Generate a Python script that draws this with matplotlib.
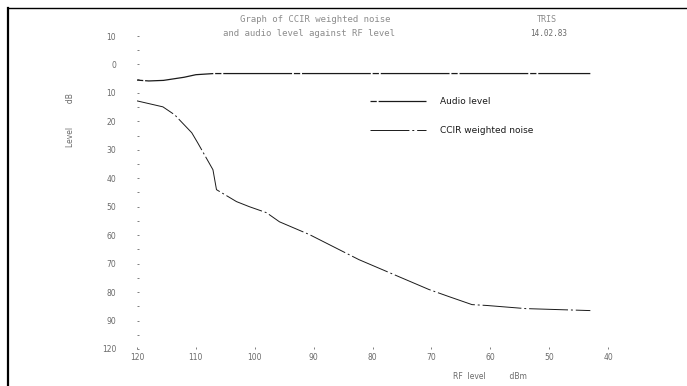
import numpy as np
import matplotlib.pyplot as plt

# values (RF level in dBm, level in dB)
audio_rf = [120, 118, 115.5, 112, 110, 107, 100, 90, 80, 70, 60, 50, 43]
audio_db = [-5.5, -5.8, -5.6, -4.5, -3.6, -3.2, -3.2, -3.2, -3.2, -3.2, -3.2, -3.2, -3.2]

noise_rf = [120, 115.6, 113.6, 110.7, 109.7, 107.1, 106.5, 103.1, 100.9, 98, 95.8,
            90.7, 82.3, 75.5, 70.4, 67, 63.1, 60.6, 54, 43]
noise_db = [-12.8, -14.9, -17.7, -24.0, -27.5, -37.0, -44.0, -48.2, -50.0, -52.1, -55.3,
            -59.8, -68.6, -74.6, -79.1, -81.6, -84.4, -84.7, -85.8, -86.5]

x_ticks = [120, 110, 100, 90, 80, 70, 60, 50, 40]
x_labels = ['120', '110', '100', '90', '80', '70', '60', '50', '40']
y_ticks = [10, 0, -10, -20, -30, -40, -50, -60, -70, -80, -90, -100]
y_labels = ['10', '0', '10', '20', '30', '40', '50', '60', '70', '80', '90', '120']

ink = '#1a1a1a'
faint = '#6a6a6a'
pale = '#8c8c8c'
mono = 'DejaVu Sans Mono'

fig = plt.figure(figsize=(6.87, 3.86), dpi=100)
ax = fig.add_axes([137 / 687, 1 - 349 / 386, (608 - 137) / 687, (349 - 36) / 386])

ax.plot(audio_rf, audio_db, color=ink, lw=0.9,
        linestyle=(0, (5, 1.5, 55, 1.5)), label='Audio level')
ax.plot(noise_rf, noise_db, color=ink, lw=0.7,
        linestyle=(0, (40, 3, 2, 3)), label='CCIR weighted noise')

ax.set_xlim(120, 40)
ax.set_ylim(-100, 10)
for s in ax.spines.values():
    s.set_visible(False)

ax.set_xticks(x_ticks)
ax.set_xticklabels(x_labels)
ax.set_yticks(y_ticks)
ax.set_yticklabels(y_labels)
ax.set_yticks(np.arange(-95, 10, 10), minor=True)
ax.tick_params(axis='both', which='both', direction='in', length=1.5, width=0.6,
               color=faint, labelcolor=faint, labelsize=5.5)
ax.tick_params(axis='x', pad=3)
ax.tick_params(axis='y', pad=15)

ax.set_xlabel('RF  level          dBm', fontsize=5.5, color=faint)
ax.xaxis.set_label_coords((490 - 137) / (608 - 137), -0.075)
ax.set_ylabel('Level          dB', fontsize=5.5, color=faint)
ax.yaxis.set_label_coords(-(137 - 75) / (608 - 137), 0.73)

leg = fig.legend(loc='upper left', bbox_to_anchor=(370 / 687, 1 - 97 / 386),
                 frameon=False, fontsize=6.5, handlelength=6.2, handletextpad=1.6,
                 labelspacing=2.2, borderpad=0, borderaxespad=0)
for t in leg.get_texts():
    t.set_color(ink)

fig.text(315 / 687, 1 - 20 / 386, 'Graph of CCIR weighted noise', ha='center', va='center',
         fontsize=6.5, family=mono, color=pale)
fig.text(309 / 687, 1 - 33 / 386, 'and audio level against RF level', ha='center', va='center',
         fontsize=6.5, family=mono, color=pale)
fig.text(547 / 687, 1 - 20 / 386, 'TRIS', ha='center', va='center', fontsize=6,
         family=mono, color=pale)
fig.text(549 / 687, 1 - 33 / 386, '14.02.83', ha='center', va='center', fontsize=5.5,
         family=mono, color=faint)

# page border of the scanned sheet
fig.add_artist(plt.Line2D([8 / 687, 8 / 687], [0, 1 - 8 / 386], color='black', lw=1.6,
                          transform=fig.transFigure))
fig.add_artist(plt.Line2D([8 / 687, 1], [1 - 8 / 386, 1 - 8 / 386], color='black', lw=1.0,
                          transform=fig.transFigure))

fig.savefig('out.png', dpi=100)
